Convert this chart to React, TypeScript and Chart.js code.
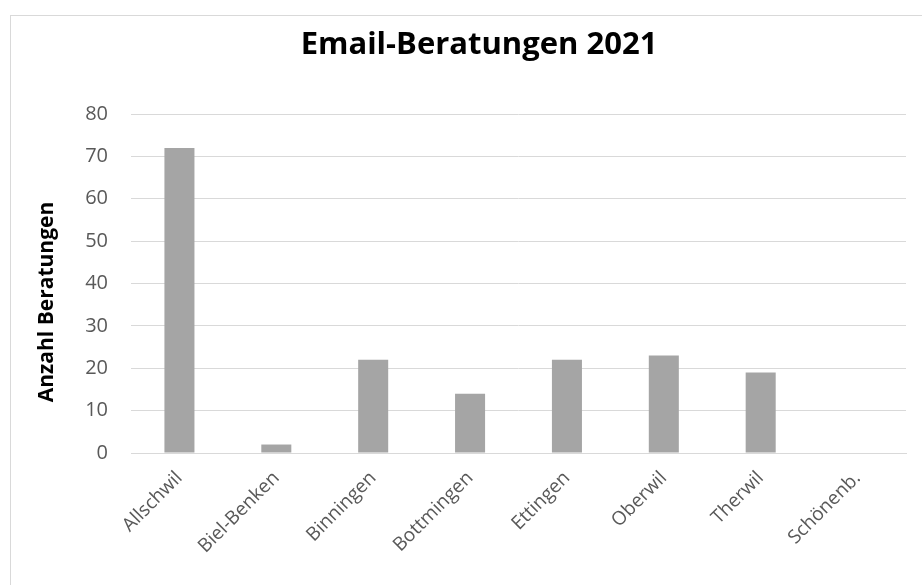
import React, { useEffect, useRef } from "react";
import { Chart, registerables } from "chart.js";

Chart.register(...registerables);

const categories = ["Allschwil", "Biel-Benken", "Binningen", "Bottmingen", "Ettingen", "Oberwil", "Therwil", "Schönenb."];
const values = [72, 2, 22, 14, 22, 23, 19, 0];
const chartTitle = "Email-Beratungen 2021";
const yTitle = "Anzahl Beratungen";
const yMin = 0;
const yMax = 80;
const yStep = 10;

const FONT = "'Open Sans', 'DejaVu Sans', sans-serif";

const titlesPlugin = {
  id: "customTitles",
  afterDraw(chart: any) {
    const ctx = chart.ctx;
    ctx.save();
    ctx.fillStyle = "#000000";
    ctx.textAlign = "center";
    ctx.textBaseline = "middle";
    ctx.font = `bold 31px ${FONT}`;
    ctx.fillText(chartTitle, 479, 45);
    ctx.translate(47, 302);
    ctx.rotate(-Math.PI / 2);
    ctx.font = `bold 21px ${FONT}`;
    ctx.fillText(yTitle, 0, 0);
    ctx.restore();
  },
};

export default function App() {
  const ref = useRef<HTMLCanvasElement>(null);
  useEffect(() => {
    document.body.style.margin = "0";
    const chart = new Chart(ref.current!, {
      type: "bar",
      data: {
        labels: categories,
        datasets: [
          {
            data: values,
            backgroundColor: "#a5a5a5",
            borderWidth: 0,
            barPercentage: 0.31,
            categoryPercentage: 1,
          },
        ],
      },
      options: {
        animation: false,
        responsive: false,
        layout: { padding: { left: 0, right: 16, top: 114, bottom: 0 } },
        plugins: {
          legend: { display: false },
          tooltip: { enabled: false },
          title: { display: false },
        },
        scales: {
          x: {
            grid: { display: false, drawTicks: false },
            border: { display: true, color: "#d9d9d9", width: 1 },
            ticks: {
              color: "#595959",
              font: { family: FONT, size: 19 },
              minRotation: 45,
              maxRotation: 45,
              padding: 14,
              autoSkip: false,
            },
            afterFit(scale: any) {
              scale.height = 132;
            },
          },
          y: {
            min: yMin,
            max: yMax,
            grid: { color: "#d9d9d9", lineWidth: 1, drawTicks: false },
            border: { display: false },
            ticks: {
              stepSize: yStep,
              color: "#595959",
              font: { family: FONT, size: 20 },
              padding: 23,
            },
            afterFit(scale: any) {
              scale.width = 131;
            },
          },
        },
      },
      plugins: [titlesPlugin],
    });
    return () => chart.destroy();
  }, []);

  return (
    <div style={{ position: "relative", width: 922, height: 585, overflow: "hidden", background: "#fff" }}>
      <div
        style={{
          position: "absolute",
          left: 10,
          top: 15,
          width: 960,
          height: 620,
          border: "1px solid #d9d9d9",
          boxSizing: "border-box",
        }}
      />
      <canvas ref={ref} width={922} height={585} style={{ position: "absolute", left: 0, top: 0 }} />
    </div>
  );
}
